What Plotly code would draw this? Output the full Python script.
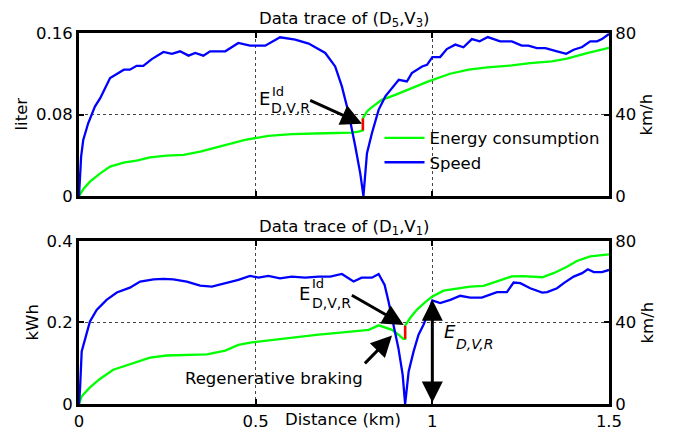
import plotly.graph_objects as go

# ---------------- data ----------------
# Top panel (D5, V3): speed (km/h) and energy (liter) vs distance (km)
top_speed_x = [0, 0.006, 0.012, 0.026, 0.045, 0.06, 0.088, 0.107, 0.127, 0.144, 0.163, 0.182,
               0.206, 0.239, 0.263, 0.286, 0.31, 0.329, 0.352, 0.371, 0.414, 0.451, 0.484,
               0.527, 0.569, 0.612, 0.65, 0.697, 0.725, 0.744, 0.763, 0.782, 0.796, 0.805,
               0.815, 0.829, 0.848, 0.867, 0.886, 0.905, 0.928, 0.942, 0.971, 0.985, 1.0,
               1.022, 1.041, 1.065, 1.088, 1.112, 1.134, 1.157, 1.192, 1.225, 1.253, 1.272,
               1.296, 1.32, 1.353, 1.379, 1.4, 1.424, 1.447, 1.466, 1.48, 1.5]
top_speed_y = [0, 19.3, 27.5, 35.7, 43.9, 48, 57.9, 60, 62, 62, 63.9, 63.9,
               67.2, 70.7, 69.8, 71, 68.9, 70.2, 68.9, 71, 71, 75.1, 73.8,
               73.8, 77.9, 76.7, 74.8, 70.2, 63.6, 53.8, 40.7, 24.3, 11.1, 0,
               21, 30.8, 42.3, 48.9, 53, 57, 56.2, 60.3, 63.6, 64.4, 68.2,
               68.2, 72.1, 74.3, 73, 77, 75.9, 78, 75.9, 75.9, 73.8, 73.8,
               72.6, 72.6, 71, 69.8, 71.8, 73.1, 75.9, 75.9, 77, 79.5]
top_energy_x = [0, 0.012, 0.031, 0.06, 0.088, 0.126, 0.163, 0.201, 0.248, 0.296, 0.343, 0.39,
                0.414, 0.47, 0.536, 0.602, 0.697, 0.772, 0.791, 0.8035, 0.8035, 0.815, 0.829,
                0.857, 0.895, 0.942, 0.989, 1.05, 1.103, 1.155, 1.225, 1.277, 1.338, 1.381,
                1.438, 1.5]
top_energy_y = [0, 0.0066, 0.0141, 0.0223, 0.0289, 0.0328, 0.0348, 0.038, 0.0397, 0.0403, 0.0436, 0.0479,
                0.0495, 0.0551, 0.059, 0.0607, 0.0616, 0.0623, 0.0633, 0.0645, 0.0762, 0.083, 0.0872,
                0.0944, 0.0993, 0.1059, 0.1125, 0.12, 0.124, 0.1262, 0.1282, 0.1305, 0.1321, 0.1348,
                0.1403, 0.1455]
top_jump_x = [0.8035, 0.8035]
top_jump_y = [0.0645, 0.0762]

# Bottom panel (D1, V1): speed (km/h) and energy (kWh) vs distance (km)
bot_speed_x = [0, 0.003, 0.0076, 0.017, 0.031, 0.05, 0.078, 0.107, 0.144, 0.173, 0.211, 0.239,
               0.267, 0.305, 0.343, 0.376, 0.414, 0.451, 0.484, 0.508, 0.536, 0.569, 0.602,
               0.64, 0.678, 0.711, 0.744, 0.777, 0.8, 0.829, 0.848, 0.865, 0.876, 0.89, 0.904,
               0.916, 0.923, 0.933, 0.947, 0.961, 0.975, 0.99, 1.0, 1.022, 1.051, 1.079,
               1.107, 1.14, 1.183, 1.211, 1.23, 1.249, 1.277, 1.311, 1.325, 1.353, 1.372,
               1.4, 1.424, 1.44, 1.457, 1.48, 1.5]
bot_speed_y = [0, 7.8, 25.8, 32.3, 40.5, 46.2, 51.1, 54.7, 57.1, 60.1, 61.2, 61.4,
               61.2, 60.1, 58.1, 57.6, 59.2, 60.9, 62.9, 62, 62.9, 61.7, 62.5,
               62, 62.5, 62.5, 63.8, 60.1, 62, 62, 63.8, 58.4, 50.3, 38.9, 27.4,
               14.4, 0, 16, 25.8, 34, 38.9, 45.4, 50.8, 49.5, 51.1, 53.1,
               52.2, 52.2, 54.9, 54.9, 59.6, 59.3, 56.8, 54.7, 54.9, 56.8, 59.3,
               62.5, 64.2, 66.1, 64.7, 64.7, 65.8]
bot_energy_x = [0, 0.0076, 0.031, 0.06, 0.097, 0.144, 0.201, 0.248, 0.305, 0.362, 0.414, 0.451,
                0.489, 0.527, 0.564, 0.602, 0.64, 0.678, 0.725, 0.782, 0.82, 0.848, 0.867,
                0.886, 0.904, 0.918, 0.923, 0.923, 0.937, 0.956, 0.98, 1.0, 1.032, 1.07,
                1.107, 1.145, 1.183, 1.225, 1.258, 1.311, 1.343, 1.381, 1.409, 1.447, 1.5]
bot_energy_y = [0, 0.0188, 0.0408, 0.062, 0.084, 0.098, 0.114, 0.119, 0.121, 0.122, 0.131, 0.145,
                0.151, 0.155, 0.159, 0.162, 0.166, 0.17, 0.174, 0.178, 0.182, 0.193, 0.188,
                0.182, 0.17, 0.16, 0.16, 0.192, 0.211, 0.231, 0.25, 0.264, 0.278, 0.284,
                0.288, 0.29, 0.3, 0.313, 0.314, 0.311, 0.321, 0.337, 0.351, 0.362, 0.367]
bot_jump_x = [0.923, 0.923]
bot_jump_y = [0.16, 0.192]

dist_ticks = [0, 0.5, 1, 1.5]
dist_labels = ["0", "0.5", "1", "1.5"]
liter_ticks = [0, 0.08, 0.16]
liter_labels = ["0", "0.08", "0.16"]
kwh_ticks = [0, 0.2, 0.4]
kwh_labels = ["0", "0.2", "0.4"]
kmh_ticks = [0, 40, 80]
kmh_labels = ["0", "40", "80"]

GREEN = "#00ff00"
BLUE = "#0000ff"
RED = "#ff0000"
FONT = "DejaVu Sans"
FS = 16.5

fig = go.Figure()
fig.add_trace(go.Scatter(x=top_energy_x, y=top_energy_y, mode="lines", name="Energy consumption",
                         line=dict(color=GREEN, width=2.3), xaxis="x", yaxis="y"))
fig.add_trace(go.Scatter(x=top_jump_x, y=top_jump_y, mode="lines", showlegend=False,
                         line=dict(color=RED, width=2.5), xaxis="x", yaxis="y"))
fig.add_trace(go.Scatter(x=top_speed_x, y=top_speed_y, mode="lines", name="Speed",
                         line=dict(color=BLUE, width=2.3), xaxis="x", yaxis="y2"))
fig.add_trace(go.Scatter(x=bot_energy_x, y=bot_energy_y, mode="lines", showlegend=False,
                         line=dict(color=GREEN, width=2.3), xaxis="x2", yaxis="y3"))
fig.add_trace(go.Scatter(x=bot_jump_x, y=bot_jump_y, mode="lines", showlegend=False,
                         line=dict(color=RED, width=2.5), xaxis="x2", yaxis="y3"))
fig.add_trace(go.Scatter(x=bot_speed_x, y=bot_speed_y, mode="lines", showlegend=False,
                         line=dict(color=BLUE, width=2.3), xaxis="x2", yaxis="y4"))

axis_common = dict(showline=True, linecolor="black", linewidth=3, ticks="inside", ticklen=5,
                   tickwidth=1.5, tickcolor="black", zeroline=False, automargin=False,
                   tickfont=dict(family=FONT, size=FS, color="black"))
grid = dict(showgrid=True, gridcolor="#444444", gridwidth=1, griddash="dot")

TOP_DOM = [0.5606, 1.0]
BOT_DOM = [0.0, 0.4394]

fig.update_layout(
    width=673, height=431,
    margin=dict(l=79, r=64, t=33, b=27, autoexpand=False),
    paper_bgcolor="white", plot_bgcolor="white",
    font=dict(family=FONT, size=FS, color="black"),
    xaxis=dict(domain=[0, 1], anchor="y", range=[0, 1.5], tickvals=dist_ticks, ticktext=dist_labels,
               showticklabels=False, mirror="ticks", **axis_common, **grid),
    yaxis=dict(domain=TOP_DOM, anchor="x", range=[0, 0.16], tickvals=liter_ticks, ticktext=liter_labels,
               **axis_common, **grid),
    yaxis2=dict(overlaying="y", anchor="x", side="right", range=[0, 80], tickvals=kmh_ticks,
                ticktext=kmh_labels, showgrid=False, **axis_common),
    xaxis2=dict(domain=[0, 1], anchor="y3", range=[0, 1.5], tickvals=dist_ticks, ticktext=dist_labels,
                mirror="ticks", **axis_common, **grid),
    yaxis3=dict(domain=BOT_DOM, anchor="x2", range=[0, 0.4], tickvals=kwh_ticks, ticktext=kwh_labels,
                **axis_common, **grid),
    yaxis4=dict(overlaying="y3", anchor="x2", side="right", range=[0, 80], tickvals=kmh_ticks,
                ticktext=kmh_labels, showgrid=False, **axis_common),
    legend=dict(x=0.567, y=0.764, xanchor="left", yanchor="top", bgcolor="rgba(0,0,0,0)",
                font=dict(family=FONT, size=FS, color="black"), itemwidth=40,
                tracegroupgap=0),
    showlegend=True,
)

ann = []
def txt(text, x, y, xref, yref, size=FS, xanchor="left", yanchor="middle", italic=False,
        xshift=0, yshift=0, angle=0):
    ann.append(dict(text=("<i>%s</i>" % text) if italic else text, x=x, y=y, xref=xref, yref=yref,
                    showarrow=False, xanchor=xanchor, yanchor=yanchor, xshift=xshift, yshift=yshift,
                    textangle=angle, font=dict(family=FONT, size=size, color="black")))

# panel titles
txt("Data trace of (D<sub>5</sub>,V<sub>3</sub>)", 0.5, 1.0, "paper", "paper", xanchor="center",
    yanchor="bottom", yshift=1)
txt("Data trace of (D<sub>1</sub>,V<sub>1</sub>)", 0.5, BOT_DOM[1], "paper", "paper", xanchor="center",
    yanchor="bottom", yshift=1)
# axis titles
txt("liter", 0, (TOP_DOM[0] + TOP_DOM[1]) / 2, "paper", "paper", xanchor="center", xshift=-57, angle=-90)
txt("kWh", 0, (BOT_DOM[0] + BOT_DOM[1]) / 2, "paper", "paper", xanchor="center", xshift=-47, angle=-90)
txt("km/h", 1, (TOP_DOM[0] + TOP_DOM[1]) / 2, "paper", "paper", xanchor="center", xshift=38, angle=-90)
txt("km/h", 1, (BOT_DOM[0] + BOT_DOM[1]) / 2, "paper", "paper", xanchor="center", xshift=38, angle=-90)
txt("Distance (km)", 0.7465, 0, "x2", "y3", xanchor="center", yshift=-15)

# top panel E^Id_{D,V,R}
txt("E", 0.503, 0.0962, "x", "y", size=18)
txt("Id", 0.541, 0.1024, "x", "y", size=13)
txt("D,V,R", 0.539, 0.0863, "x", "y", size=14)
# bottom panel E^Id_{D,V,R}
txt("E", 0.617, 0.272, "x2", "y3", size=18)
txt("Id", 0.655, 0.295, "x2", "y3", size=13)
txt("D,V,R", 0.655, 0.247, "x2", "y3", size=14)
# bottom panel E_{D,V,R}
txt("E", 1.027, 0.177, "x2", "y3", size=18, italic=True)
txt("D,V,R", 1.06, 0.148, "x2", "y3", size=14, italic=True)
# regenerative braking
txt("Regenerative braking", 0.5506, 0.0637, "x2", "y3", xanchor="center")

def arrow(x, y, ax, ay, xref, yref, both=False):
    d = dict(x=x, y=y, ax=ax, ay=ay, xref=xref, yref=yref, axref=xref, ayref=yref, text="",
             showarrow=True, arrowhead=2, arrowsize=1.4, arrowwidth=3, arrowcolor="black", standoff=0)
    if both:
        d.update(arrowside="end+start", startarrowhead=2, startarrowsize=1.4, startstandoff=0)
    ann.append(d)

arrow(0.801, 0.0709, 0.65, 0.0945, "x", "y")
arrow(0.919, 0.194, 0.768, 0.269, "x2", "y3")
arrow(0.886, 0.168, 0.805, 0.096, "x2", "y3")
arrow(1.0, 0.2555, 1.0, 0.0, "x2", "y3", both=True)

fig.update_layout(annotations=ann)
fig.write_html("out.html", config={"displayModeBar": False},
               post_script="document.body.style.margin='0';")
